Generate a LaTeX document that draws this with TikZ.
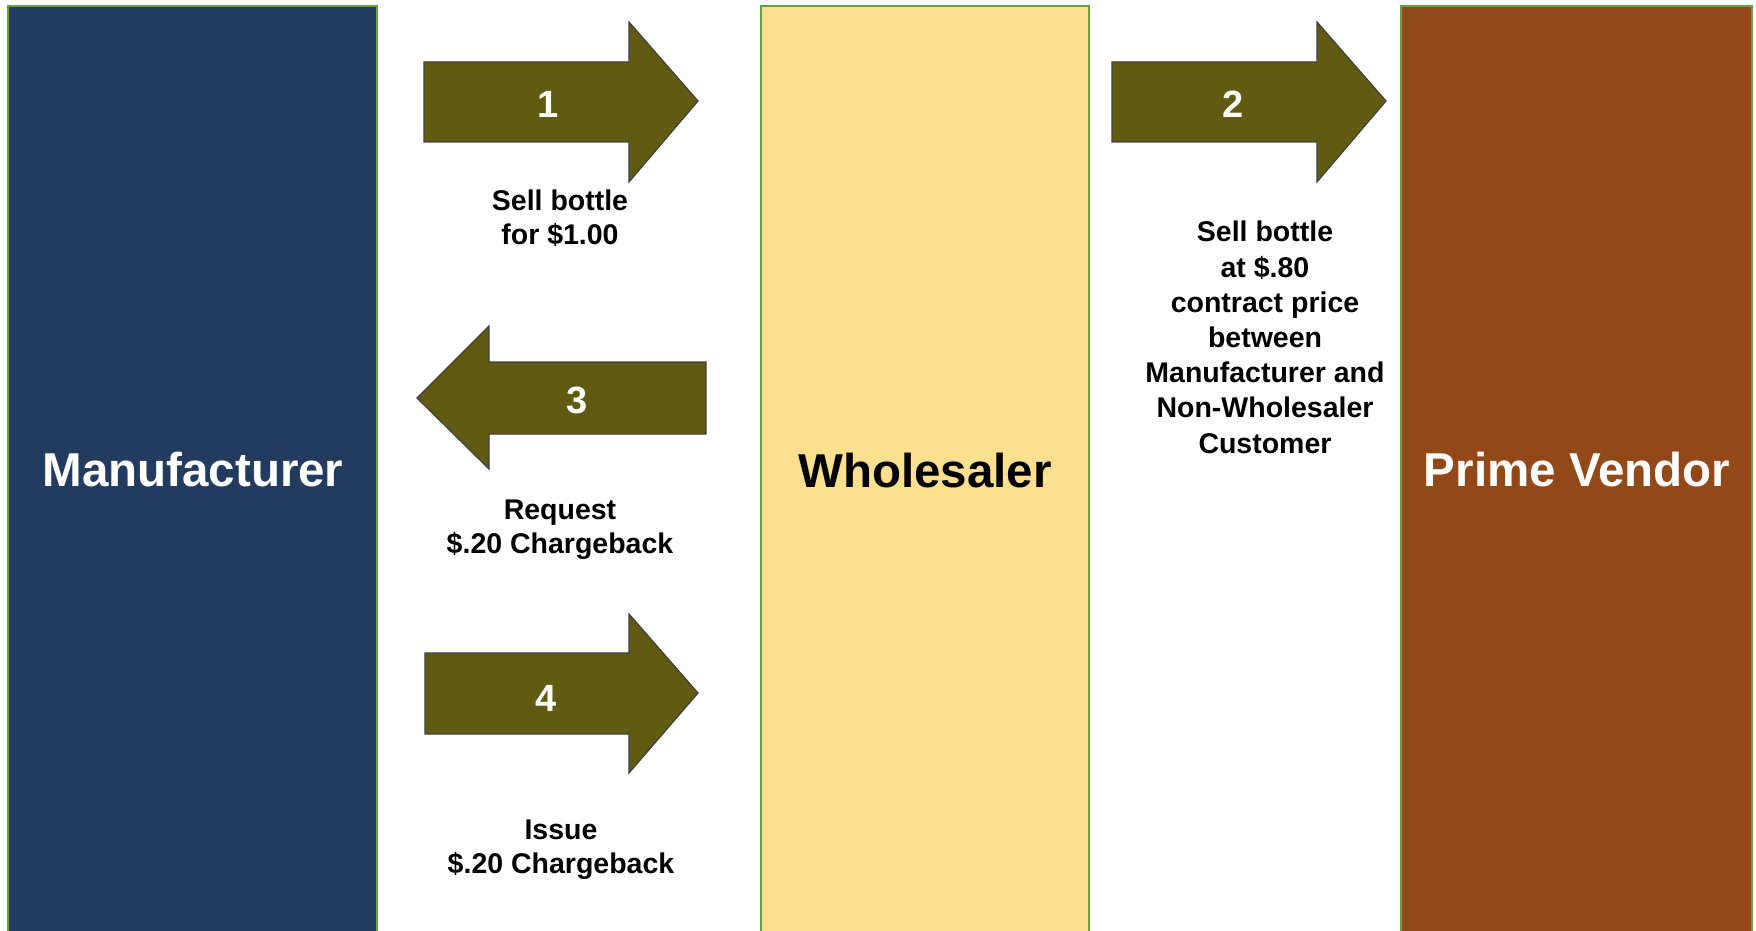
\documentclass[tikz,border=0pt]{standalone}
\usepackage{fontspec}
\setmainfont{Liberation Sans}
\usepackage{tikz}
\definecolor{manufblue}{HTML}{233B5F}
\definecolor{wholeyellow}{HTML}{FDE08F}
\definecolor{primebrown}{HTML}{934917}
\definecolor{arrowolive}{HTML}{605B10}
\definecolor{edgegreen}{HTML}{6A9F45}

\begin{document}
\begin{tikzpicture}[x=0.5pt,y=-0.5pt,
    colbox/.style={draw=edgegreen,line width=0.9pt},
    blockarr/.style={fill=arrowolive,draw=black!75,line width=0.6pt},
    colname/.style={anchor=base,inner sep=0pt,font=\fontsize{23.75}{28}\selectfont\bfseries},
    stepnum/.style={anchor=base,inner sep=0pt,text=white,font=\fontsize{19}{22}\selectfont\bfseries},
    stepnote/.style={anchor=base,inner sep=0pt,align=center,font=\fontsize{14.25}{17}\selectfont\bfseries}]
      \useasboundingbox (0,0) rectangle (1756,931);
      \draw[colbox,fill=manufblue] (8,6) rectangle (377,940);
      \draw[colbox,fill=wholeyellow] (761,6) rectangle (1089,940);
      \draw[colbox,fill=primebrown] (1401,6) rectangle (1752,940);
      \node[colname,text=white] (manuf) at (193,486) {Manufacturer};
      \node[colname] (whole) at (925,487) {Wholesaler};
      \node[colname,text=white] (prime) at (1577,486) {Prime Vendor};
      \draw[blockarr] (424,62) -- (629,62) -- (629,22) -- (698,101) -- (629,182) -- (629,142) -- (424,142) -- cycle;
      \draw[blockarr] (1112,62) -- (1317,62) -- (1317,22) -- (1386,101) -- (1317,182) -- (1317,142) -- (1112,142) -- cycle;
      \draw[blockarr] (706,362) -- (489,362) -- (489,326) -- (417,398) -- (489,469) -- (489,434) -- (706,434) -- cycle;
      \draw[blockarr] (425,653) -- (629,653) -- (629,614) -- (698,693) -- (629,773) -- (629,734) -- (425,734) -- cycle;
      \node[stepnum] (one) at (548,118) {1};
      \node[stepnum] (two) at (1233,118) {2};
      \node[stepnum] (three) at (577,413) {3};
      \node[stepnum] (four) at (546,711) {4};
      \node[stepnote] (sell) at (560,244) {Sell bottle\\for \$1.00};
      \node[stepnote,font=\fontsize{14.25}{17.6}\selectfont\bfseries] (contract) at (1265,453)
        {Sell bottle\\at \$.80\\contract price\\between\\Manufacturer and\\Non-Wholesaler\\Customer};
      \node[stepnote] (request) at (560,553) {Request\\\$.20 Chargeback};
      \node[stepnote] (issue) at (561,873) {Issue\\\$.20 Chargeback};
    \end{tikzpicture}
\end{document}
